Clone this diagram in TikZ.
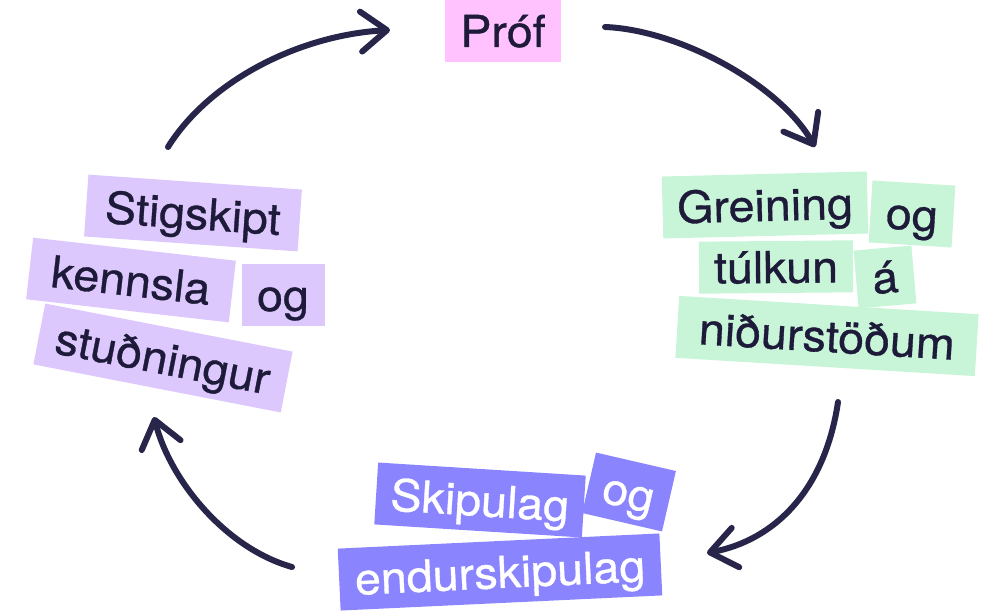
\documentclass[tikz,border=0pt]{standalone}
\usepackage{fontspec}
\setmainfont{TeX Gyre Heros}[FakeBold=0.8,FakeStretch=1.06]
\usetikzlibrary{arrows.meta}
\definecolor{ink}{HTML}{1E1B3A}
\definecolor{arrowc}{HTML}{27254A}
\definecolor{pinkbg}{HTML}{FFC2FE}
\definecolor{greenbg}{HTML}{C8F5D8}
\definecolor{lavbg}{HTML}{DCC8FC}
\definecolor{bluebg}{HTML}{8A85FF}
\newcommand{\lblfont}{\fontsize{44}{50}\selectfont}
\tikzset{
  word/.style={font=\lblfont, text=ink, inner xsep=0pt, inner ysep=15pt,
    text height=32pt, text depth=0pt, anchor=center},
  pinkw/.style={word, fill=pinkbg},
  greenw/.style={word, fill=greenbg},
  lavw/.style={word, fill=lavbg},
  bluew/.style={word, fill=bluebg, text=white},
  cyc/.style={draw=arrowc, line width=6pt, line cap=round,
    -{Straight Barb[length=26pt,width=40pt,round]}}
}
\begin{document}
\begin{tikzpicture}[x=1pt,y=-1pt]
\useasboundingbox (0,0) rectangle (1000,612);
% Prof
\node[pinkw, minimum width=116pt] (prof) at (503,31) {Próf};
% green group
\node[greenw, minimum width=205pt, rotate=1.4] (greining) at (765,205) {Greining};
\node[greenw, minimum width=83pt, rotate=-3.5] (og1) at (912,214) {og};
\node[greenw, minimum width=154pt, rotate=0.5, inner ysep=10pt] (tulkun) at (776,267) {túlkun};
\node[greenw, minimum width=58pt, rotate=5, inner ysep=13pt] (a1) at (885,277) {á};
\node[greenw, minimum width=300pt, rotate=-3.5] (nidur) at (827,336) {niðurstöðum};
% lavender group
\node[lavw, minimum width=214pt, rotate=-4] (stig) at (193,213) {Stigskipt};
\node[lavw, minimum width=204pt, rotate=-6.5] (kenn) at (131,280) {kennsla};
\node[lavw, minimum width=83pt] (og2) at (283,295) {og};
\node[lavw, minimum width=252pt, rotate=-11] (stud) at (163,358) {stuðningur};
% blue group
\node[bluew, minimum width=208pt, rotate=-3.6] (skip) at (480,500) {Skipulag};
\node[bluew, minimum width=82pt, rotate=-13] (og3) at (629,492) {og};
\node[bluew, minimum width=322pt, rotate=2.7] (endur) at (500,572) {endurskipulag};
% arc endpoints
\coordinate (a1s) at (168,147);
\coordinate (a1e) at (390,30);
\coordinate (a2s) at (605,27);
\coordinate (a2e) at (815,147);
\coordinate (a3s) at (838,402);
\coordinate (a3e) at (707,553);
\coordinate (a4s) at (292,567);
\coordinate (a4e) at (154,417);
\draw[cyc] (a1s) .. controls (210,80) and (300,35) .. (a1e);
\draw[cyc] (a2s) .. controls (680,30) and (780,85) .. (a2e);
\draw[cyc] (a3s) .. controls (825,490) and (775,540) .. (a3e);
\draw[cyc] (a4s) .. controls (225,548) and (170,480) .. (a4e);
\end{tikzpicture}
\end{document}
